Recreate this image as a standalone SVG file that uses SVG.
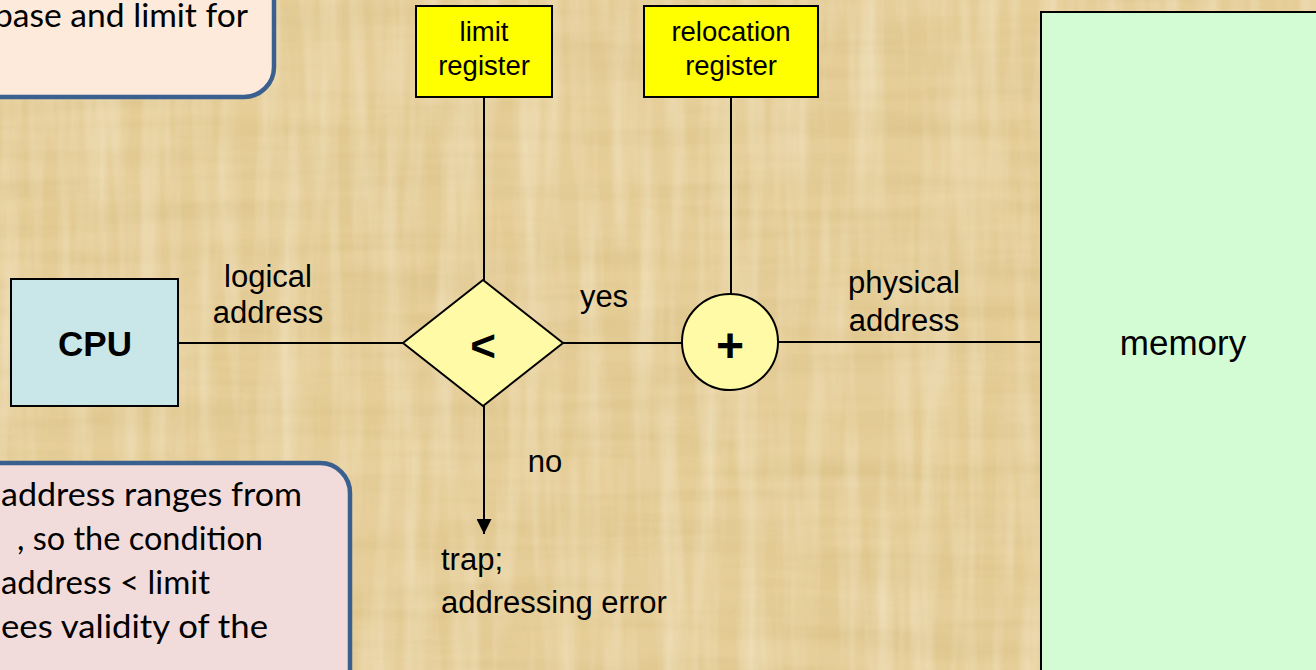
<svg xmlns="http://www.w3.org/2000/svg" width="1316" height="670" viewBox="0 0 1316 670">
  <defs>
    <style>
      .lbl { font-family: "Liberation Sans", Arial, sans-serif; font-size: 31px; fill: #000; }
      .big { font-size: 35px; }
      .reg { font-family: "Liberation Sans", Arial, sans-serif; font-size: 27.5px; fill: #000; text-anchor: middle; }
      .op  { font-family: "Liberation Sans", Arial, sans-serif; font-weight: bold; fill: #000; text-anchor: middle; }
      .note { font-family: Lato, "Open Sans", sans-serif; font-size: 33px; fill: #000; }
      .wire { stroke: #000; stroke-width: 2; fill: none; }
      .box { stroke: #000; stroke-width: 2; }
      .callout { stroke: #3B6090; stroke-width: 4.5; }
    </style>
    <!-- papyrus fibres: long vertical and horizontal streaks -->
    <filter id="fibreV" x="0" y="0" width="100%" height="100%">
      <feTurbulence type="fractalNoise" baseFrequency="0.004 0.05" numOctaves="3" seed="7"/>
      <feColorMatrix type="matrix" values="0 0 0 0 0.62  0 0 0 0 0.47  0 0 0 0 0.18  0 0 0 1.6 -0.62"/>
    </filter>
    <filter id="fibreH" x="0" y="0" width="100%" height="100%">
      <feTurbulence type="fractalNoise" baseFrequency="0.05 0.004" numOctaves="3" seed="3"/>
      <feColorMatrix type="matrix" values="0 0 0 0 0.98  0 0 0 0 0.93  0 0 0 0 0.80  0 0 0 1.6 -0.6"/>
    </filter>
    <filter id="blotch" x="0" y="0" width="100%" height="100%">
      <feTurbulence type="fractalNoise" baseFrequency="0.012 0.02" numOctaves="2" seed="11"/>
      <feColorMatrix type="matrix" values="0 0 0 0 0.78  0 0 0 0 0.60  0 0 0 0 0.26  0 0 0 1.4 -0.55"/>
    </filter>
    <marker id="arrow" viewBox="0 0 15 15" refX="15" refY="7.5" markerWidth="15" markerHeight="15" markerUnits="userSpaceOnUse" orient="auto">
      <path d="M0,0 L15,7.5 L0,15 Z" fill="#000"/>
    </marker>
  </defs>

  <!-- papyrus background -->
  <rect width="1316" height="670" fill="#E6CE9A"/>
  <rect width="1316" height="670" filter="url(#blotch)" opacity="0.5"/>
  <rect width="1316" height="670" filter="url(#fibreV)" opacity="0.45"/>
  <rect width="1316" height="670" filter="url(#fibreH)" opacity="0.45"/>

  <!-- connectors -->
  <g id="connectors">
    <line class="wire" x1="178" y1="343" x2="403" y2="343"/>
    <line class="wire" x1="563" y1="343" x2="682" y2="343"/>
    <line class="wire" x1="778" y1="342" x2="1041" y2="342"/>
    <line class="wire" x1="484" y1="97" x2="484" y2="280"/>
    <line class="wire" x1="731" y1="97" x2="731" y2="295"/>
    <line class="wire" x1="484" y1="406" x2="484" y2="534" marker-end="url(#arrow)"/>
    <text class="lbl" x="268" y="287" text-anchor="middle">logical</text>
    <text class="lbl" x="268" y="323" text-anchor="middle">address</text>
    <text class="lbl" x="604" y="307" text-anchor="middle">yes</text>
    <text class="lbl" x="904" y="293" text-anchor="middle">physical</text>
    <text class="lbl" x="904" y="331" text-anchor="middle">address</text>
    <text class="lbl" x="545" y="472" text-anchor="middle">no</text>
  </g>

  <!-- notes -->
  <g id="note-top">
    <rect class="callout" x="-40" y="-40" width="314" height="137" rx="30" fill="#FDEADB"/>
    <text class="note" x="-6" y="27" textLength="254" lengthAdjust="spacingAndGlyphs">base and limit for</text>
  </g>
  <g id="note-bottom">
    <rect class="callout" x="-40" y="463" width="390" height="260" rx="30" fill="#F2DCDB"/>
    <text class="note" x="1" y="506" textLength="301" lengthAdjust="spacingAndGlyphs">address ranges from</text>
    <text class="note" x="17" y="550" textLength="246" lengthAdjust="spacingAndGlyphs">, so the condition</text>
    <text class="note" x="1" y="594" textLength="209" lengthAdjust="spacingAndGlyphs">address &lt; limit</text>
    <text class="note" x="1" y="638" textLength="267" lengthAdjust="spacingAndGlyphs">ees validity of the</text>
  </g>

  <!-- nodes -->
  <g id="cpu">
    <rect class="box" x="11" y="279" width="167" height="127" fill="#C9E6E9"/>
    <text class="op" x="95" y="356" font-size="35">CPU</text>
  </g>
  <g id="limit-register">
    <rect class="box" x="416" y="6" width="136" height="91" fill="#FFFF00"/>
    <text class="reg" x="484" y="41">limit</text>
    <text class="reg" x="484" y="75">register</text>
  </g>
  <g id="relocation-register">
    <rect class="box" x="644" y="6" width="174" height="91" fill="#FFFF00"/>
    <text class="reg" x="731" y="41">relocation</text>
    <text class="reg" x="731" y="75">register</text>
  </g>
  <g id="compare">
    <polygon class="box" points="483,280 563,343 483,406 403,343" fill="#FFFAA6"/>
    <text class="op" x="483" y="361" font-size="44">&lt;</text>
  </g>
  <g id="adder">
    <circle class="box" cx="730" cy="342" r="48" fill="#FFFAA6"/>
    <text class="op" x="730" y="362" font-size="48">+</text>
  </g>
  <g id="trap">
    <text class="lbl" x="441" y="570">trap;</text>
    <text class="lbl" x="441" y="613">addressing error</text>
  </g>
  <g id="memory">
    <rect class="box" x="1041" y="12" width="300" height="700" fill="#D4FCD4"/>
    <text class="lbl big" x="1183" y="355" text-anchor="middle">memory</text>
  </g>
</svg>
